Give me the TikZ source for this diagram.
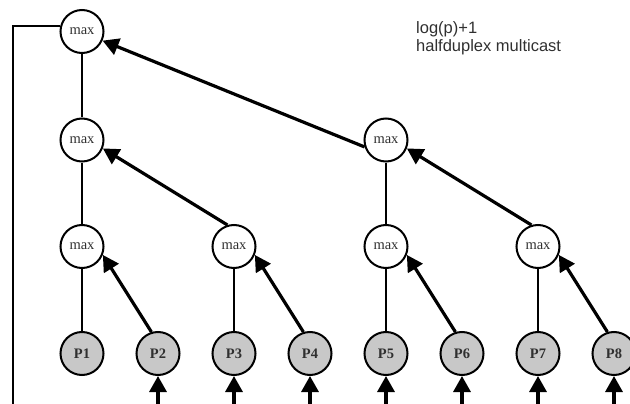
\documentclass[tikz,border=0pt]{standalone}
\usepackage{fontspec}
\setmainfont{Liberation Serif}
\newfontfamily\labelsans{Liberation Sans}
\usetikzlibrary{arrows.meta}
\definecolor{leafgray}{RGB}{200,200,200}
\definecolor{txtgray}{RGB}{48,48,48}
\tikzset{
  maxnode/.style={circle, draw=black, line width=2pt, fill=white, minimum size=43pt, inner sep=0pt, font=\fontsize{14.5}{14.5}\selectfont, text=txtgray},
  leafnode/.style={circle, draw=black, line width=2pt, fill=leafgray, minimum size=43pt, inner sep=0pt, font=\fontsize{14.5}{14.5}\selectfont\bfseries, text=txtgray},
  plainline/.style={line width=2pt},
  arrline/.style={line width=3.2pt, -{Triangle[length=16pt,width=17pt]}},
}
\begin{document}
\begin{tikzpicture}[x=1pt,y=-1pt]
\path[use as bounding box] (0,0) rectangle (630,404);
% nodes
\node[maxnode] (r) at (82,31.5) {max};
\node[maxnode] (a1) at (82,140) {max};
\node[maxnode] (a2) at (386,140) {max};
\node[maxnode] (b1) at (82,246.5) {max};
\node[maxnode] (b2) at (234,246.5) {max};
\node[maxnode] (b3) at (386,246.5) {max};
\node[maxnode] (b4) at (538,246.5) {max};
\foreach \i in {1,...,8}{
  \node[leafnode] (p\i) at ({82+76*(\i-1)},353.5) {P\i};
  \coordinate (q\i) at ({82+76*(\i-1)},404);
}
\coordinate (bl) at (13,404);
% text
\node[anchor=base west, align=left, inner sep=0pt, text=txtgray,
      font=\labelsans\fontsize{16.5}{18}\selectfont] (t) at (416,52) {log(p)+1\\halfduplex multicast};
% plain lines
\draw[plainline] (r) -- (a1);
\draw[plainline] (a1) -- (b1);
\draw[plainline] (a2) -- (b3);
\draw[plainline] (b1) -- (p1);
\draw[plainline] (b2) -- (p3);
\draw[plainline] (b3) -- (p5);
\draw[plainline] (b4) -- (p7);
\draw[plainline] (r.166) -| (bl);
% arrows
\draw[arrline] (a2.198) -- (r.-24);
\draw[arrline] (b2.107) -- (a1.-22);
\draw[arrline] (b4.107) -- (a2.-22);
\draw[arrline] (p2.107) -- (b1.-22);
\draw[arrline] (p4.107) -- (b2.-22);
\draw[arrline] (p6.107) -- (b3.-22);
\draw[arrline] (p8.107) -- (b4.-22);
\foreach \i in {2,...,8}{
  \draw[arrline] (q\i) -- (p\i.south);
}
\end{tikzpicture}
\end{document}
